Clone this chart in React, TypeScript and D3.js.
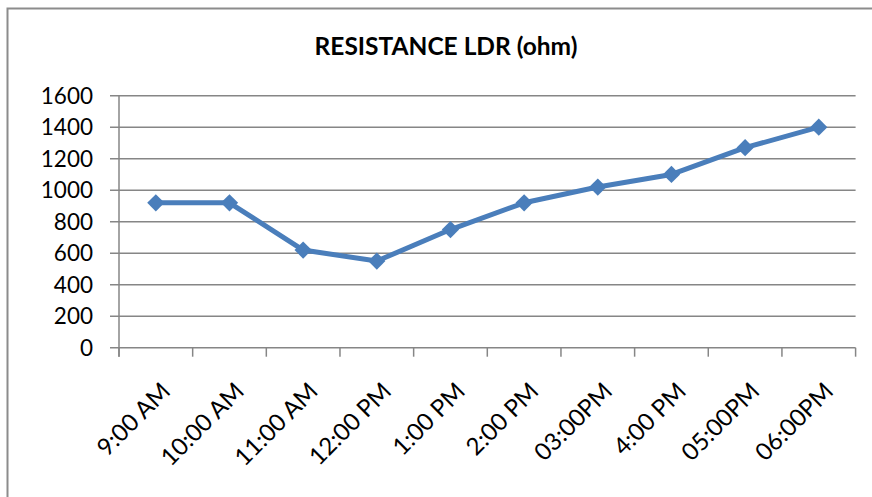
import React, { useRef, useEffect } from "react"
import * as d3 from "d3"

const categories = ["9:00 AM", "10:00 AM", "11:00 AM", "12:00 PM", "1:00 PM", "2:00 PM", "03:00PM", "4:00 PM", "05:00PM", "06:00PM"]
const resistance = [920, 920, 620, 550, 750, 920, 1020, 1100, 1270, 1400]
const yTicks = [0, 200, 400, 600, 800, 1000, 1200, 1400, 1600]
const title = "RESISTANCE LDR (ohm)"

const App: React.FC = () => {
  const svgRef = useRef<SVGSVGElement>(null)

  const width = 872
  const height = 497
  const plot = { left: 119, right: 855.6, top: 95.7, bottom: 347.7 }

  useEffect(() => {
    const svg = d3.select(svgRef.current)
    svg.selectAll("*").remove()

    const font = "Lato, 'Open Sans', sans-serif"
    const gridColor = "#868686"

    // chart area border
    svg.append("rect")
      .attr("x", 7.5).attr("y", 8.5)
      .attr("width", width + 20).attr("height", height + 20)
      .attr("fill", "#fff")
      .attr("stroke", "#8c8c8c").attr("stroke-width", 2)

    svg.append("text")
      .attr("x", 446).attr("y", 55)
      .attr("text-anchor", "middle")
      .attr("font-family", font).attr("font-weight", "bold")
      .attr("font-size", 24.5)
      .text(title)

    const x = d3.scaleBand<string>()
      .domain(categories)
      .range([plot.left, plot.right])

    const y = d3.scaleLinear()
      .domain([0, 1600])
      .range([plot.bottom, plot.top])

    // gridlines + y ticks
    const yAxis = svg.append("g")
    yAxis.selectAll("line")
      .data(yTicks)
      .enter().append("line")
      .attr("x1", plot.left - 9).attr("x2", plot.right)
      .attr("y1", d => y(d)).attr("y2", d => y(d))
      .attr("stroke", gridColor).attr("stroke-width", 1.5)

    yAxis.selectAll("text")
      .data(yTicks)
      .enter().append("text")
      .attr("x", 93).attr("y", d => y(d) + 8)
      .attr("text-anchor", "end")
      .attr("font-family", font).attr("font-size", 22.5)
      .text(d => d)

    // vertical axis line
    svg.append("line")
      .attr("x1", plot.left).attr("x2", plot.left)
      .attr("y1", plot.top).attr("y2", plot.bottom + 9)
      .attr("stroke", gridColor).attr("stroke-width", 1.5)

    // bottom category ticks
    const boundaries = categories.map(c => x(c) as number).concat([plot.right])
    svg.append("g").selectAll("line")
      .data(boundaries)
      .enter().append("line")
      .attr("x1", d => d).attr("x2", d => d)
      .attr("y1", plot.bottom).attr("y2", plot.bottom + 9)
      .attr("stroke", gridColor).attr("stroke-width", 1.5)

    // x labels
    svg.append("g").selectAll("text")
      .data(categories)
      .enter().append("text")
      .attr("transform", d => `translate(${(x(d) as number) + x.bandwidth() / 2 + 16},${plot.bottom + 45}) rotate(-45)`)
      .attr("text-anchor", "end")
      .attr("font-family", font).attr("font-size", 24)
      .text(d => d)

    const cx = (i: number) => (x(categories[i]) as number) + x.bandwidth() / 2

    const line = d3.line<number>()
      .x((d, i) => cx(i))
      .y(d => y(d))

    svg.append("path")
      .datum(resistance)
      .attr("d", line)
      .attr("fill", "none")
      .attr("stroke", "#4a7ebb")
      .attr("stroke-width", 5)
      .attr("stroke-linejoin", "round")

    svg.append("g").selectAll("path")
      .data(resistance)
      .enter().append("path")
      .attr("d", d3.symbol().type(d3.symbolDiamond2).size(190))
      .attr("transform", (d, i) => `translate(${cx(i)},${y(d)})`)
      .attr("fill", "#4a7ebb")
  }, [])

  return (
    <svg ref={svgRef} width={width} height={height}
      style={{ position: "absolute", left: 0, top: 0, background: "#fff" }} />
  )
}

export default App
